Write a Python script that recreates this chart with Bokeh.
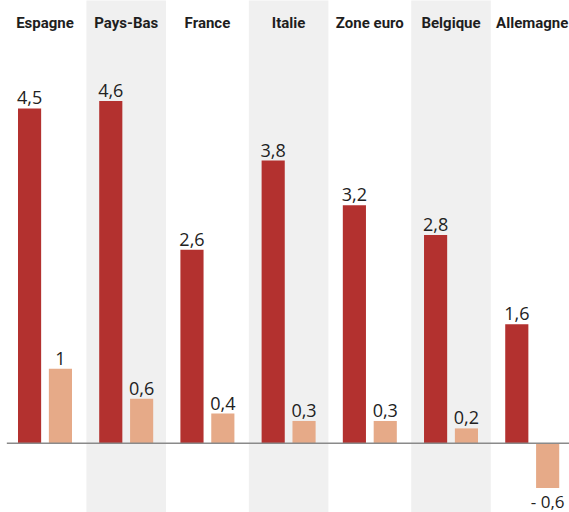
from bokeh.plotting import figure
from bokeh.models import ColumnDataSource, Range1d
from bokeh.core.properties import value
from bokeh.embed import file_html
from bokeh.resources import INLINE

countries = ["Espagne", "Pays-Bas", "France", "Italie", "Zone euro", "Belgique", "Allemagne"]
series_a = [4.5, 4.6, 2.6, 3.8, 3.2, 2.8, 1.6]
series_b = [1.0, 0.6, 0.4, 0.3, 0.3, 0.2, -0.6]
shaded = ["Pays-Bas", "Italie", "Belgique"]

RED = "#b3312f"
LIGHT = "#e6aa88"
BAND = "#f0f0f0"

def fmt(v):
    s = ("%g" % abs(v)).replace(".", ",")
    return ("- " + s) if v < 0 else s

idx = list(range(len(countries)))
off = 0.19
bw = 0.285

p = figure(width=569, height=512, output_backend="svg", toolbar_location=None,
           x_range=Range1d(-0.548, 6.459), y_range=Range1d(-0.93, 5.95),
           min_border=0, min_border_left=0, min_border_right=0,
           min_border_top=0, min_border_bottom=0)
p.axis.visible = False
p.grid.visible = False
p.outline_line_color = None
p.background_fill_color = "white"
p.border_fill_color = "white"

# shaded bands
band_x = [countries.index(c) for c in shaded]
p.quad(left=[x - 0.49 for x in band_x], right=[x + 0.49 for x in band_x],
       bottom=-2, top=8, fill_color=BAND, line_color=None)

# bars
xa = [i - off for i in idx]
xb = [i + off for i in idx]
p.vbar(x=xa, top=series_a, bottom=0, width=bw, fill_color=RED, line_color=None)
p.vbar(x=xb, top=series_b, bottom=0, width=bw, fill_color=LIGHT, line_color=None)

# baseline
p.segment(x0=[-0.47], x1=[6.5], y0=[0], y1=[0], line_color="#8a8a8a", line_width=1.5)

label_kw = dict(text_align="center", text_font=value("Open Sans"),
                text_font_size="18px", text_color="#222222")

# value labels
src_a = ColumnDataSource(dict(x=xa, y=series_a, t=[fmt(v) for v in series_a]))
p.text(x="x", y="y", text="t", source=src_a, text_baseline="bottom", y_offset=-4, **label_kw)

src_bp = ColumnDataSource(dict(x=[x for x, v in zip(xb, series_b) if v >= 0],
                               y=[v for v in series_b if v >= 0],
                               t=[fmt(v) for v in series_b if v >= 0]))
p.text(x="x", y="y", text="t", source=src_bp, text_baseline="bottom", y_offset=-4, **label_kw)

src_bn = ColumnDataSource(dict(x=[x for x, v in zip(xb, series_b) if v < 0],
                               y=[v for v in series_b if v < 0],
                               t=[fmt(v) for v in series_b if v < 0]))
p.text(x="x", y="y", text="t", source=src_bn, text_baseline="top", y_offset=2,
       **dict(label_kw, text_font_size="17px"))

# country titles
p.text(x=idx, y=[5.65] * len(idx), text=countries, text_align="center", text_baseline="middle",
       text_font=value("Roboto"), text_font_style="bold", text_font_size="15px",
       text_color="#1e1e1e")

open("out.html", "w").write(file_html(p, INLINE))
